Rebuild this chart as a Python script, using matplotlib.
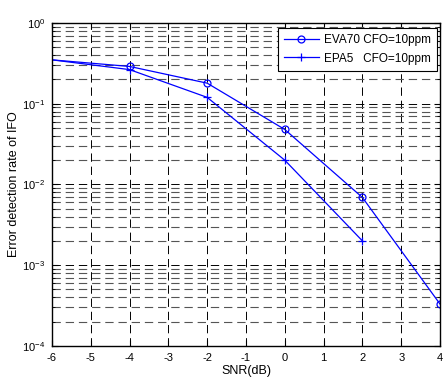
import numpy as np
import matplotlib.pyplot as plt
from matplotlib.ticker import LogLocator, FixedLocator

plt.rcParams['font.family'] = ['Liberation Sans', 'DejaVu Sans']
plt.rcParams['axes.unicode_minus'] = False
plt.rcParams['mathtext.fontset'] = 'custom'
plt.rcParams['mathtext.rm'] = 'Liberation Sans'
plt.rcParams['mathtext.it'] = 'Liberation Sans'
plt.rcParams['lines.scale_dashes'] = False

# data
snr_eva = [-6, -4, -2, 0, 2, 4]
err_eva = [0.35, 0.29, 0.18, 0.048, 0.0069, 0.00033]
snr_epa = [-6, -4, -2, 0, 2]
err_epa = [0.35, 0.265, 0.12, 0.020, 0.0020]

fig = plt.figure(figsize=(4.44, 3.78), dpi=100)
ax = fig.add_axes([0.117, 0.085, 0.874, 0.854])

ax.semilogy(snr_eva, err_eva, color='#0000ff', lw=0.9, marker='o', ms=5,
            mfc='none', mew=0.9, markevery=list(range(1, len(snr_eva))),
            label='EVA70 CFO=10ppm')
ax.semilogy(snr_epa, err_epa, color='#0000ff', lw=0.9, marker='+', ms=6,
            mew=0.9, markevery=list(range(1, len(snr_epa))),
            label='EPA5   CFO=10ppm')

ax.set_xlim(-6, 4)
ax.set_ylim(1e-4, 1)
ax.xaxis.set_major_locator(FixedLocator(np.arange(-6, 5, 1)))
ax.yaxis.set_major_locator(LogLocator(base=10, numticks=10))
ax.yaxis.set_minor_locator(LogLocator(base=10, subs=np.arange(2, 10), numticks=20))

ax.grid(True, which='major', color='black', linestyle=(0, (6, 3.5)), lw=0.7)
ax.grid(True, which='minor', axis='y', color='#555555', linestyle=(0, (6, 3.5)), lw=0.8)
ax.set_axisbelow(True)
ax.tick_params(which='both', direction='in', top=True, right=True, labelsize=8)
ax.tick_params(which='major', length=4, pad=5)
ax.tick_params(which='minor', length=2)
for s in ax.spines.values():
    s.set_linewidth(1.0)

ax.set_xlabel('SNR(dB)', fontsize=9, labelpad=1.5)
ax.set_ylabel('Error detection rate of IFO', fontsize=9, labelpad=1)

leg = ax.legend(loc='upper right', bbox_to_anchor=(0.993, 0.984), fontsize=8.5,
                fancybox=False, framealpha=1, edgecolor='black', borderpad=0.5,
                handlelength=3, handletextpad=0.45, labelspacing=0.55,
                borderaxespad=0)
leg.get_frame().set_linewidth(0.8)

fig.savefig('out.png', dpi=100)
